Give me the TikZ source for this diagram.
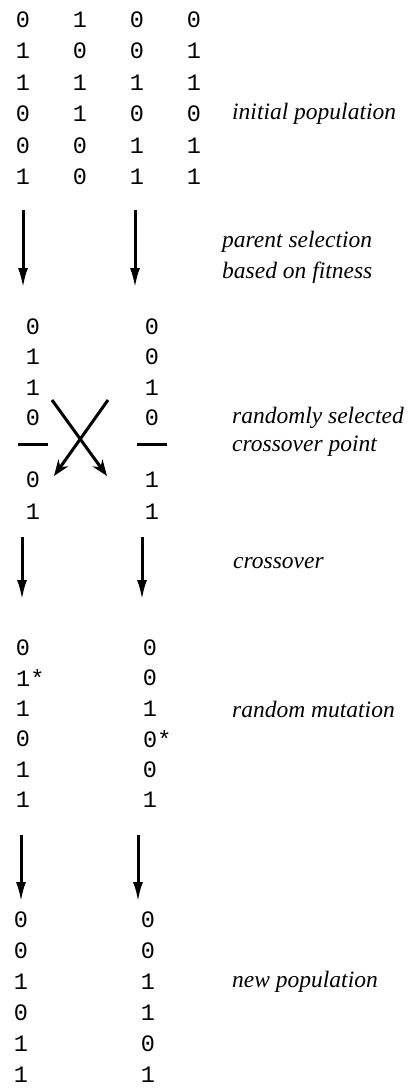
\documentclass[tikz,border=0pt]{standalone}
\usepackage{fontspec}
\setmainfont{Liberation Serif}
\setmonofont{Liberation Mono}
\usetikzlibrary{arrows.meta}

\newcommand{\bitfont}{\ttfamily\fontsize{23.5}{28}\selectfont}
\newcommand{\lblfont}{\itshape\fontsize{23.5}{28}\selectfont}

\begin{document}
\begin{tikzpicture}[x=1pt,y=-1pt,
    bit/.style={font=\bitfont,inner sep=0pt},
    lbl/.style={font=\lblfont,anchor=west,inner sep=0pt},
    flow/.style={line width=3pt,-{Latex[length=20pt,width=10pt]}},
    swap/.style={line width=3pt,-{Stealth[length=16pt,width=12pt,inset=5pt]}},
    cut/.style={line width=3pt}]

    \useasboundingbox (0,0) rectangle (418,1089);

    % initial population
    \node[bit] (p11) at (23,20) {0};
    \node[bit] (p12) at (80,20) {1};
    \node[bit] (p13) at (137,20) {0};
    \node[bit] (p14) at (194,20) {0};
    \node[bit] (p21) at (23,51) {1};
    \node[bit] (p22) at (80,51) {0};
    \node[bit] (p23) at (137,51) {0};
    \node[bit] (p24) at (194,51) {1};
    \node[bit] (p31) at (23,83) {1};
    \node[bit] (p32) at (80,83) {1};
    \node[bit] (p33) at (137,83) {1};
    \node[bit] (p34) at (194,83) {1};
    \node[bit] (p41) at (23,114) {0};
    \node[bit] (p42) at (80,114) {1};
    \node[bit] (p43) at (137,114) {0};
    \node[bit] (p44) at (194,114) {0};
    \node[bit] (p51) at (23,146) {0};
    \node[bit] (p52) at (80,146) {0};
    \node[bit] (p53) at (137,146) {1};
    \node[bit] (p54) at (194,146) {1};
    \node[bit] (p61) at (23,177) {1};
    \node[bit] (p62) at (80,177) {0};
    \node[bit] (p63) at (137,177) {1};
    \node[bit] (p64) at (194,177) {1};
    \node[lbl] (initpop) at (232,114) {initial population};

    % parent selection
    \coordinate (sel1s) at (23,210);
    \coordinate (sel1e) at (23,288);
    \coordinate (sel2s) at (135,210);
    \coordinate (sel2e) at (135,288);
    \draw[flow] (sel1s) -- (sel1e);
    \draw[flow] (sel2s) -- (sel2e);
    \node[lbl] (parsel) at (222,242) {parent selection};
    \node[lbl] (basfit) at (222,273) {based on fitness};

    % parents and crossover point
    \node[bit] (a1) at (33,327) {0};
    \node[bit] (a2) at (33,357) {1};
    \node[bit] (a3) at (33,388) {1};
    \node[bit] (a4) at (33,418) {0};
    \node[bit] (a5) at (33,480) {0};
    \node[bit] (a6) at (33,512) {1};
    \node[bit] (b1) at (152,327) {0};
    \node[bit] (b2) at (152,357) {0};
    \node[bit] (b3) at (152,388) {1};
    \node[bit] (b4) at (152,418) {0};
    \node[bit] (b5) at (152,480) {1};
    \node[bit] (b6) at (152,512) {1};
    \coordinate (cuta1) at (18,444);
    \coordinate (cuta2) at (48,444);
    \coordinate (cutb1) at (137,444);
    \coordinate (cutb2) at (167,444);
    \draw[cut] (cuta1) -- (cuta2);
    \draw[cut] (cutb1) -- (cutb2);
    \coordinate (xl) at (52,400);
    \coordinate (xr) at (108,400);
    \coordinate (xlb) at (54,476);
    \coordinate (xrb) at (107,476);
    \draw[swap] (xl) -- (xrb);
    \draw[swap] (xr) -- (xlb);
    \node[lbl] (randsel) at (232,418) {randomly selected};
    \node[lbl] (crpoint) at (232,446) {crossover point};

    % crossover
    \coordinate (co1s) at (22,537);
    \coordinate (co1e) at (22,600);
    \coordinate (co2s) at (142,537);
    \coordinate (co2e) at (142,600);
    \draw[flow] (co1s) -- (co1e);
    \draw[flow] (co2s) -- (co2e);
    \node[lbl] (cross) at (233,563) {crossover};

    % random mutation
    \node[bit] (c1) at (23,648) {0};
    \node[bit,anchor=west] (c2) at (16,678) {1*};
    \node[bit] (c3) at (23,709) {1};
    \node[bit] (c4) at (23,739) {0};
    \node[bit] (c5) at (23,770) {1};
    \node[bit] (c6) at (23,800) {1};
    \node[bit] (d1) at (150,648) {0};
    \node[bit] (d2) at (150,678) {0};
    \node[bit] (d3) at (150,709) {1};
    \node[bit,anchor=west] (d4) at (143,739) {0*};
    \node[bit] (d5) at (150,770) {0};
    \node[bit] (d6) at (150,800) {1};
    \node[lbl] (mutat) at (232,709) {random mutation};

    \coordinate (nw1s) at (21,835);
    \coordinate (nw1e) at (21,902);
    \coordinate (nw2s) at (138,835);
    \coordinate (nw2e) at (138,902);
    \draw[flow] (nw1s) -- (nw1e);
    \draw[flow] (nw2s) -- (nw2e);

    % new population
    \node[bit] (e1) at (21,920) {0};
    \node[bit] (e2) at (21,951) {0};
    \node[bit] (e3) at (21,982) {1};
    \node[bit] (e4) at (21,1013) {0};
    \node[bit] (e5) at (21,1044) {1};
    \node[bit] (e6) at (21,1075) {1};
    \node[bit] (f1) at (148,920) {0};
    \node[bit] (f2) at (148,951) {0};
    \node[bit] (f3) at (148,982) {1};
    \node[bit] (f4) at (148,1013) {1};
    \node[bit] (f5) at (148,1044) {0};
    \node[bit] (f6) at (148,1075) {1};
    \node[lbl] (newpop) at (232,982) {new population};

    \end{tikzpicture}
\end{document}
